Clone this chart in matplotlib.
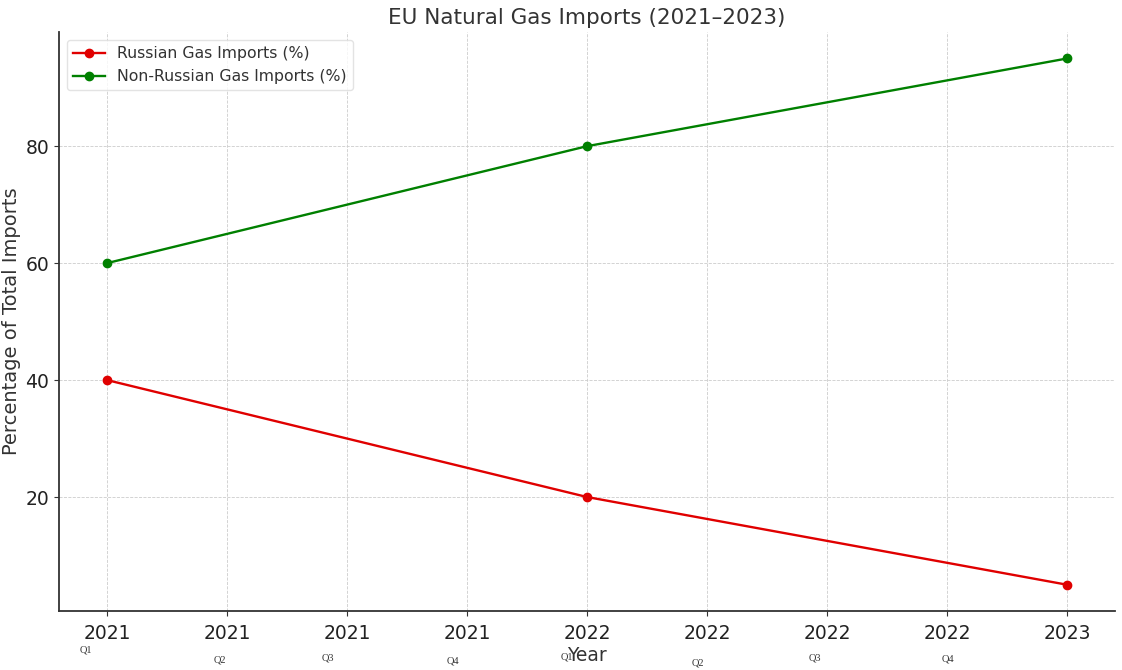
import matplotlib
matplotlib.use("Agg")
import matplotlib.pyplot as plt

# tick labels along the x axis (quarterly steps)
tick_labels = ["2021", "2021", "2021", "2021", "2022", "2022", "2022", "2022", "2023"]
years_pos = [0, 4, 8]
russian = [40, 20, 5]
non_russian = [60, 80, 95]

quarter_labels = ["Q1", "Q2", "Q3", "Q4", "Q1", "Q2", "Q3", "Q4"]
quarter_x = [-0.18, 0.94, 1.84, 2.88, 3.83, 4.92, 5.90, 7.01]
quarter_y = [-0.067, -0.085, -0.081, -0.086, -0.079, -0.090, -0.081, -0.083]

fig = plt.figure(figsize=(11.22, 6.7), dpi=100)
ax = fig.add_axes([0.0526, 0.088, 0.9412, 0.864])

ax.plot(years_pos, russian, marker="o", color="#e00000", linewidth=1.7,
        markersize=6, label="Russian Gas Imports (%)")
ax.plot(years_pos, non_russian, marker="o", color="#008000", linewidth=1.7,
        markersize=6, label="Non-Russian Gas Imports (%)")

ax.set_xticks(range(len(tick_labels)))
ax.set_xticklabels(tick_labels)
ax.set_yticks([20, 40, 60, 80])
ax.tick_params(axis="both", labelsize=13.5, colors="#333333", labelcolor="#222222")
ax.tick_params(axis="x", pad=6)

ax.grid(True, linestyle="--", linewidth=0.6, color="#cccccc")
ax.set_axisbelow(True)
for side in ["top", "right"]:
    ax.spines[side].set_visible(False)
for side in ["left", "bottom"]:
    ax.spines[side].set_linewidth(1.3)
    ax.spines[side].set_color("#333333")

ax.set_title("EU Natural Gas Imports (2021\u20132023)", fontsize=15.5, color="#333333", pad=6)
ax.set_ylabel("Percentage of Total Imports", fontsize=14, color="#333333", labelpad=3)

for lab, qx, qy in zip(quarter_labels, quarter_x, quarter_y):
    ax.text(qx, qy, lab, transform=ax.get_xaxis_transform(), ha="center", va="center",
            fontsize=7.5, family="Liberation Serif", color="#333333")

ax.set_xlabel("Year", fontsize=13.5, color="#333333", labelpad=2)

ax.legend(loc="upper left", fontsize=11.3, framealpha=0.8, edgecolor="#dddddd",
          labelcolor="#333333")

fig.savefig("out.png", dpi=100)
